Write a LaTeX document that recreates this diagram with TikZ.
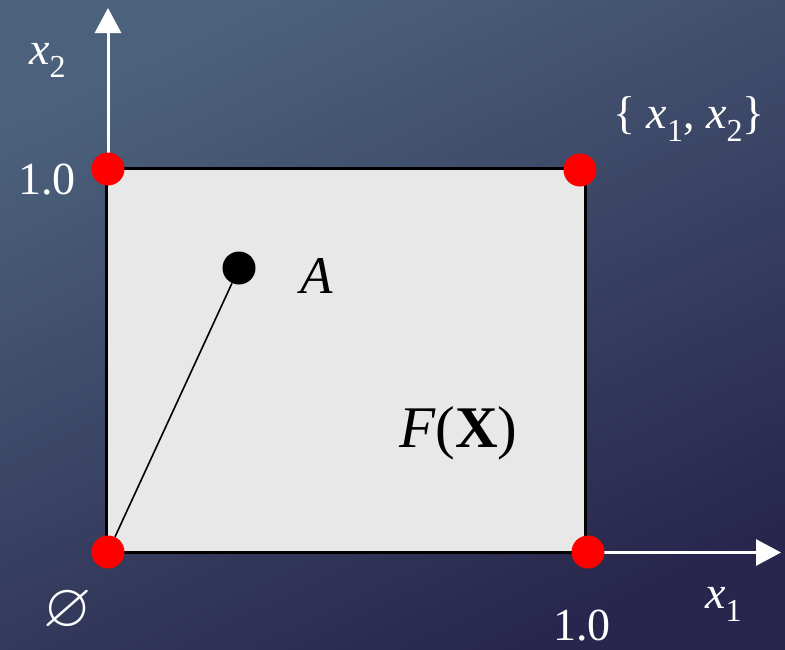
\documentclass[tikz,border=0pt]{standalone}
\usepackage{fontspec}
\usepackage{amssymb}
\setmainfont{Liberation Serif}
\usetikzlibrary{arrows.meta}
\definecolor{bgtop}{RGB}{76,98,124}
\definecolor{bgmid}{RGB}{50,56,96}
\definecolor{bgbot}{RGB}{40,38,76}
\definecolor{boxfill}{RGB}{232,232,232}
\newcommand\fsz[1]{\fontsize{#1}{#1}\selectfont}
\newcommand\lowsub[1]{\raisebox{-0.3em}{\fsz{32}#1}}
\tikzset{
  axisline/.style={draw=white,line width=3pt,-{Triangle[width=26pt,length=25pt]}},
  reddot/.style={circle,fill=red,minimum size=33pt,inner sep=0pt},
  blackdot/.style={circle,fill=black,minimum size=33pt,inner sep=0pt},
  lbl/.style={text=white,inner sep=0pt},
  boxlbl/.style={text=black,inner sep=0pt},
}
\begin{document}
\begin{tikzpicture}[x=1pt,y=-1pt]
\useasboundingbox (0,0) rectangle (785,649);
\shade[top color=bgtop,middle color=bgmid,bottom color=bgbot,shading angle=25] (0,0) rectangle (785,649);
% box
\node[draw=black,line width=3pt,fill=boxfill,minimum width=479pt,minimum height=384pt,inner sep=0pt,outer sep=0pt,anchor=north west] (box) at (106,168.5) {};
% axes
\coordinate (ytip) at (108,8);
\coordinate (xtip) at (781,552.5);
\draw[axisline] (box.north west) ++(2,0) -- (ytip);
\draw[axisline] (box.south east) -- (box.south east -| xtip);
% dots
\node[reddot] (tl) at (108,169) {};
\node[reddot] (tr) at (580,170) {};
\node[reddot] (bl) at (108,552) {};
\node[reddot] (br) at (588,552) {};
\node[blackdot] (a) at (239,268) {};
\draw[line width=1.6pt] (bl) -- (a);
% labels
\node[lbl,anchor=base west] (lx2) at (29,64) {\fsz{46}\textit{x}\lowsub{2}};
\node[lbl,anchor=base east] (ly1) at (76,194) {\fsz{46}1.0};
\node[lbl,anchor=base west] (lset) at (613,128) {\fsz{46}\{ \textit{x}\lowsub{1}, \textit{x}\lowsub{2}\}};
\node[boxlbl,anchor=base west] (la) at (300,293) {\fsz{53}\textit{A}};
\node[boxlbl,anchor=base west] (lf) at (399,447) {\fsz{59}\textit{F}(\textbf{X})};
\node[lbl] (lempty) at (68,611) {\fsz{62}$\varnothing$};
\node[lbl,anchor=base west] (lx1v) at (553,640) {\fsz{46}1.0};
\node[lbl,anchor=base west] (lx1) at (705,608) {\fsz{46}\textit{x}\lowsub{1}};
\end{tikzpicture}
\end{document}
